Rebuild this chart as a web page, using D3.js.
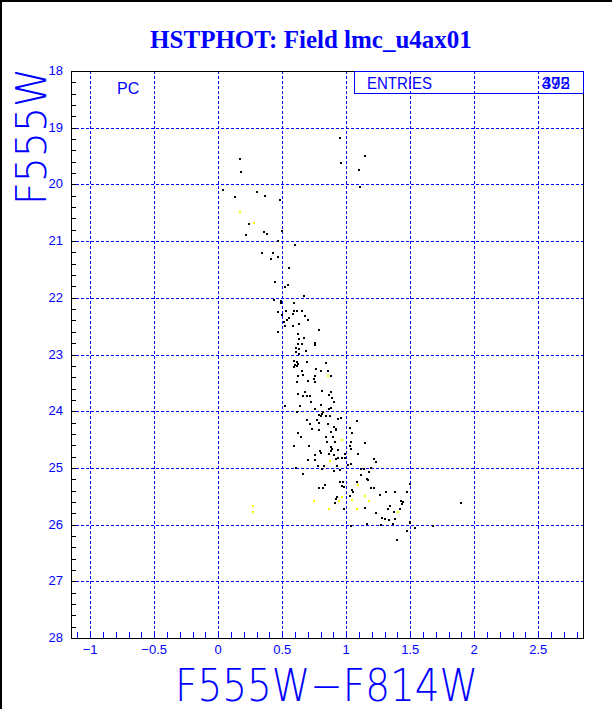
<!DOCTYPE html>
<html>
<head>
<meta charset="utf-8">
<script src="https://cdn.jsdelivr.net/npm/d3@7"></script>
<style>
body { margin: 0; background: #fff; }
</style>
</head>
<body>
<script>
//HSTPHOT colour-magnitude diagram, redrawn with d3

//stars: [colour F555W-F814W, magnitude F555W]
var blackStars = [
	[0.951,19.18],[1.143,19.50],[0.169,19.56],[0.956,19.62],[1.099,19.74],[0.177,19.78],[1.107,20.04],[0.034,20.09],
	[0.130,20.22],[0.300,20.13],[0.362,20.20],[0.479,20.27],[0.240,20.69],[0.221,20.89],[0.354,20.84],[0.380,20.87],
	[0.495,20.83],[0.471,20.99],[0.600,21.06],[0.346,21.21],[0.432,21.21],[0.471,21.28],[0.409,21.31],[0.557,21.47],
	[0.440,21.72],[0.544,21.78],[0.518,21.81],[0.674,21.97],
	[0.438,22.04],[0.490,22.06],[0.490,22.09],[0.591,22.09],[0.471,22.25],[0.529,22.23],[0.591,22.23],[0.617,22.23],
	[0.651,22.23],[0.581,22.29],[0.682,22.32],[0.497,22.31],[0.557,22.35],[0.539,22.40],[0.698,22.39],[0.516,22.42],
	[0.521,22.50],[0.583,22.50],[0.630,22.47],[0.784,22.56],[0.464,22.60],[0.620,22.64],[0.669,22.71],[0.635,22.73],
	[0.758,22.79],[0.620,22.81],[0.651,22.82],[0.753,22.84],[0.607,22.89],[0.630,22.91],[0.688,22.94],[0.609,22.96],
	[0.628,22.99],[0.591,23.11],[0.617,23.14],[0.602,23.18],[0.612,23.21],[0.622,23.17],[0.690,23.14],[0.846,23.15],
	[0.591,23.22],[0.763,23.26],[0.654,23.29],[0.857,23.29],[0.807,23.29],[0.622,23.38],[0.661,23.37],[0.753,23.38],
	[0.880,23.38],[0.745,23.44],[0.615,23.48],[0.700,23.47],[0.755,23.49],[0.677,23.66],[0.810,23.65],[0.878,23.66],
	[0.622,23.70],[0.661,23.74],[0.695,23.74],[0.720,23.73],[0.862,23.71],[0.888,23.76],[0.727,23.84],[0.638,23.91],
	[0.521,23.91],[0.802,23.89],[0.904,23.84],[0.885,23.94],[0.865,23.96],[0.758,23.96],[0.615,24.01],[0.820,24.02],
	[0.808,24.05],[0.790,24.07],[0.800,24.09],[0.870,24.08],[0.935,24.13],[0.956,24.12],[0.840,24.08],
	[0.693,24.16],[0.771,24.16],[0.789,24.21],[0.719,24.22],[0.854,24.23],[1.081,24.18],[0.904,24.27],[0.919,24.32],
	[0.919,24.34],[0.732,24.32],[0.784,24.34],[1.029,24.29],[0.885,24.36],[0.622,24.39],[0.646,24.45],[1.042,24.39],
	[0.846,24.46],[0.898,24.46],[0.852,24.55],[0.909,24.55],[1.034,24.55],[1.146,24.56],[0.594,24.62],[0.708,24.62],
	[0.878,24.64],[0.888,24.67],[0.883,24.71],[0.794,24.71],[0.807,24.73],[0.938,24.69],[1.029,24.62],[1.037,24.66],
	[0.990,24.75],[0.862,24.76],[0.904,24.77],[1.096,24.76],[0.755,24.77],[0.924,24.84],[0.935,24.82],[0.698,24.86],
	[0.755,24.86],[0.964,24.83],[0.987,24.82],[1.214,24.84],[1.232,24.90],[1.013,24.95],[1.039,24.94],[0.781,24.97],
	[0.826,24.97],[0.927,24.96],[0.604,25.01],[0.813,25.02],[0.950,25.03],[1.115,25.02],[1.141,25.02],[1.190,25.01],
	[0.904,25.06],[1.177,25.07],[0.659,25.10],[1.115,25.12],[1.159,25.19],[1.174,25.22],[0.953,25.24],[0.977,25.24],
	[1.081,25.25],[0.971,25.32],[0.982,25.33],[0.786,25.36],[0.815,25.35],[0.836,25.31],[1.193,25.36],[1.219,25.36],
	[1.042,25.39],[1.057,25.42],[1.313,25.43],[1.263,25.48],[1.385,25.42],[0.927,25.51],[0.919,25.54],[1.026,25.49],
	[0.911,25.62],[1.341,25.67],[1.323,25.72],[0.982,25.72],[1.143,25.71],[1.232,25.79],[1.375,25.78],[1.279,25.89],
	[1.302,25.91],[1.333,25.92],[1.378,25.91],[1.367,25.99],[1.159,25.99],[1.273,26.00],[1.036,26.02],[1.393,26.28],
	[1.495,25.28],[1.476,25.42],[1.426,25.58],[1.447,25.60],[1.439,25.64],[1.418,25.72],[1.495,25.96],[1.500,25.98],
	[1.537,26.06],[1.474,26.11],[1.677,26.02],[1.894,25.62]
];

var yellowStars = [
	[0.174,20.49],[0.279,20.68],[0.854,23.38],[0.964,24.51],[0.870,24.87],[1.089,25.30],[0.745,25.58],[0.966,25.52],
	[0.940,25.58],[1.042,25.56],[1.143,25.49],[1.182,25.58],[0.862,25.73],[1.081,25.73],[1.406,25.77],[0.268,25.68],
	[0.268,25.78]
];

//axis ticks and labels
var xGrid = [-1, -0.5, 0, 0.5, 1, 1.5, 2, 2.5];
var xTickLabels = ["\u22121", "\u22120.5", "0", "0.5", "1", "1.5", "2", "2.5"];
var yGrid = [19, 20, 21, 22, 23, 24, 25, 26, 27];
var yTickLabels = [18, 19, 20, 21, 22, 23, 24, 25, 26, 27, 28];

var entries = ["395", "472"]; //two counts printed on top of each other

var blue = "#0000ff";

var w = 612;
var h = 709;

//frame of the plot (not called top/left: window.top is read-only)
var frameL = 71, frameR = 583, frameT = 71, frameB = 638;

var xScale = d3.scaleLinear() //colour axis
	.domain([-1.15, 2.85])
	.range([frameL, frameR]);

var yScale = d3.scaleLinear() //magnitude axis, bright at top
	.domain([18, 28])
	.range([frameT, frameB]);

var svg = d3.select("body")
	.append("svg")
	.attr("width", w)
	.attr("height", h)
	.style("display", "block");

svg.append("rect") //white page
	.attr("width", w)
	.attr("height", h)
	.attr("fill", "#fff");

//black border on left and top of the picture
svg.append("line").attr("x1", 1).attr("x2", 1).attr("y1", 0).attr("y2", h)
	.attr("stroke", "#000").attr("stroke-width", 2);
svg.append("line").attr("x1", 0).attr("x2", w).attr("y1", 1).attr("y2", 1)
	.attr("stroke", "#000").attr("stroke-width", 2);

//title
svg.append("text")
	.text("HSTPHOT: Field lmc_u4ax01")
	.attr("x", 311)
	.attr("y", 48)
	.attr("text-anchor", "middle")
	.attr("font-family", "Liberation Serif, Times New Roman, serif")
	.attr("font-weight", "bold")
	.attr("font-size", "25px")
	.attr("fill", blue);

//dashed grid
svg.append("g")
	.selectAll("line")
	.data(xGrid)
	.enter()
	.append("line")
	.attr("x1", function(d){ return Math.round(xScale(d)) + 0.5; })
	.attr("x2", function(d){ return Math.round(xScale(d)) + 0.5; })
	.attr("y1", frameT)
	.attr("y2", frameB)
	.attr("stroke", blue)
	.attr("stroke-dasharray", "3,2");

svg.append("g")
	.selectAll("line")
	.data(yGrid)
	.enter()
	.append("line")
	.attr("x1", frameL)
	.attr("x2", frameR)
	.attr("y1", function(d){ return Math.round(yScale(d)) + 0.5; })
	.attr("y2", function(d){ return Math.round(yScale(d)) + 0.5; })
	.attr("stroke", blue)
	.attr("stroke-dasharray", "3,2");

//minor ticks, inside the frame
var xMinor = d3.range(-11, 29).map(function(i){ return i / 10; });
var yMinor = d3.range(90, 140).map(function(i){ return i / 5; });

svg.append("g")
	.selectAll("line")
	.data(xMinor)
	.enter()
	.append("line")
	.attr("x1", function(d){ return Math.round(xScale(d)) + 0.5; })
	.attr("x2", function(d){ return Math.round(xScale(d)) + 0.5; })
	.attr("y1", frameB)
	.attr("y2", frameB - 6)
	.attr("stroke", blue);

svg.append("g")
	.selectAll("line")
	.data(yMinor)
	.enter()
	.append("line")
	.attr("x1", frameL)
	.attr("x2", frameL + 5)
	.attr("y1", function(d){ return Math.round(yScale(d)) + 0.5; })
	.attr("y2", function(d){ return Math.round(yScale(d)) + 0.5; })
	.attr("stroke", "#000");

//frame
svg.append("rect")
	.attr("x", frameL + 0.5)
	.attr("y", frameT + 0.5)
	.attr("width", frameR - frameL)
	.attr("height", frameB - frameT)
	.attr("fill", "none")
	.attr("stroke", "#000");

//tick labels
svg.append("g")
	.selectAll("text")
	.data(xGrid)
	.enter()
	.append("text")
	.text(function(d, i){ return xTickLabels[i]; })
	.attr("x", function(d){ return xScale(d); })
	.attr("y", 654)
	.attr("text-anchor", "middle")
	.attr("font-family", "Liberation Sans, Arial, sans-serif")
	.attr("font-size", "13px")
	.attr("fill", blue);

svg.append("g")
	.selectAll("text")
	.data(yTickLabels)
	.enter()
	.append("text")
	.text(function(d){ return d; })
	.attr("x", 63)
	.attr("y", function(d){ return yScale(d) + 4; })
	.attr("text-anchor", "end")
	.attr("font-family", "Liberation Sans, Arial, sans-serif")
	.attr("font-size", "13px")
	.attr("fill", blue);

//axis titles
svg.append("text")
	.text("F555W\u2212F814W")
	.attr("x", 175)
	.attr("y", 701)
	.attr("textLength", 303)
	.attr("lengthAdjust", "spacingAndGlyphs")
	.attr("font-family", "DejaVu Sans, sans-serif")
	.attr("font-weight", 200)
	.attr("font-size", "44px")
	.attr("fill", blue);

svg.append("text")
	.text("F555W")
	.attr("transform", "translate(46,205) rotate(-90)")
	.attr("textLength", 137)
	.attr("lengthAdjust", "spacingAndGlyphs")
	.attr("font-family", "DejaVu Sans, sans-serif")
	.attr("font-weight", 200)
	.attr("font-size", "42px")
	.attr("fill", blue);

//PC label
svg.append("text")
	.text("PC")
	.attr("x", 117)
	.attr("y", 94)
	.attr("font-family", "Liberation Sans, Arial, sans-serif")
	.attr("font-size", "16px")
	.attr("fill", blue);

//entries box
svg.append("rect")
	.attr("x", 354.5)
	.attr("y", frameT + 0.5)
	.attr("width", frameR - 354)
	.attr("height", 22)
	.attr("fill", "none")
	.attr("stroke", blue);

svg.append("text")
	.text("ENTRIES")
	.attr("x", 367)
	.attr("y", 89)
	.attr("textLength", 65)
	.attr("lengthAdjust", "spacingAndGlyphs")
	.attr("font-family", "Liberation Sans, Arial, sans-serif")
	.attr("font-size", "17px")
	.attr("fill", blue);

svg.append("g")
	.selectAll("text")
	.data(entries)
	.enter()
	.append("text")
	.text(function(d){ return d; })
	.attr("x", 570)
	.attr("y", 89)
	.attr("text-anchor", "end")
	.attr("font-family", "Liberation Sans, Arial, sans-serif")
	.attr("font-size", "17px")
	.attr("fill", blue);

//stars
svg.append("g")
	.selectAll("rect")
	.data(blackStars)
	.enter()
	.append("rect")
	.attr("x", function(d){ return Math.round(xScale(d[0])) - 1; })
	.attr("y", function(d){ return Math.round(yScale(d[1])) - 1; })
	.attr("width", 2)
	.attr("height", 2)
	.attr("fill", "#000");

svg.append("g")
	.selectAll("rect")
	.data(yellowStars)
	.enter()
	.append("rect")
	.attr("x", function(d){ return Math.round(xScale(d[0])) - 1; })
	.attr("y", function(d){ return Math.round(yScale(d[1])) - 1; })
	.attr("width", 2)
	.attr("height", 2)
	.attr("fill", "#ffff00");
</script>
</body>
</html>
